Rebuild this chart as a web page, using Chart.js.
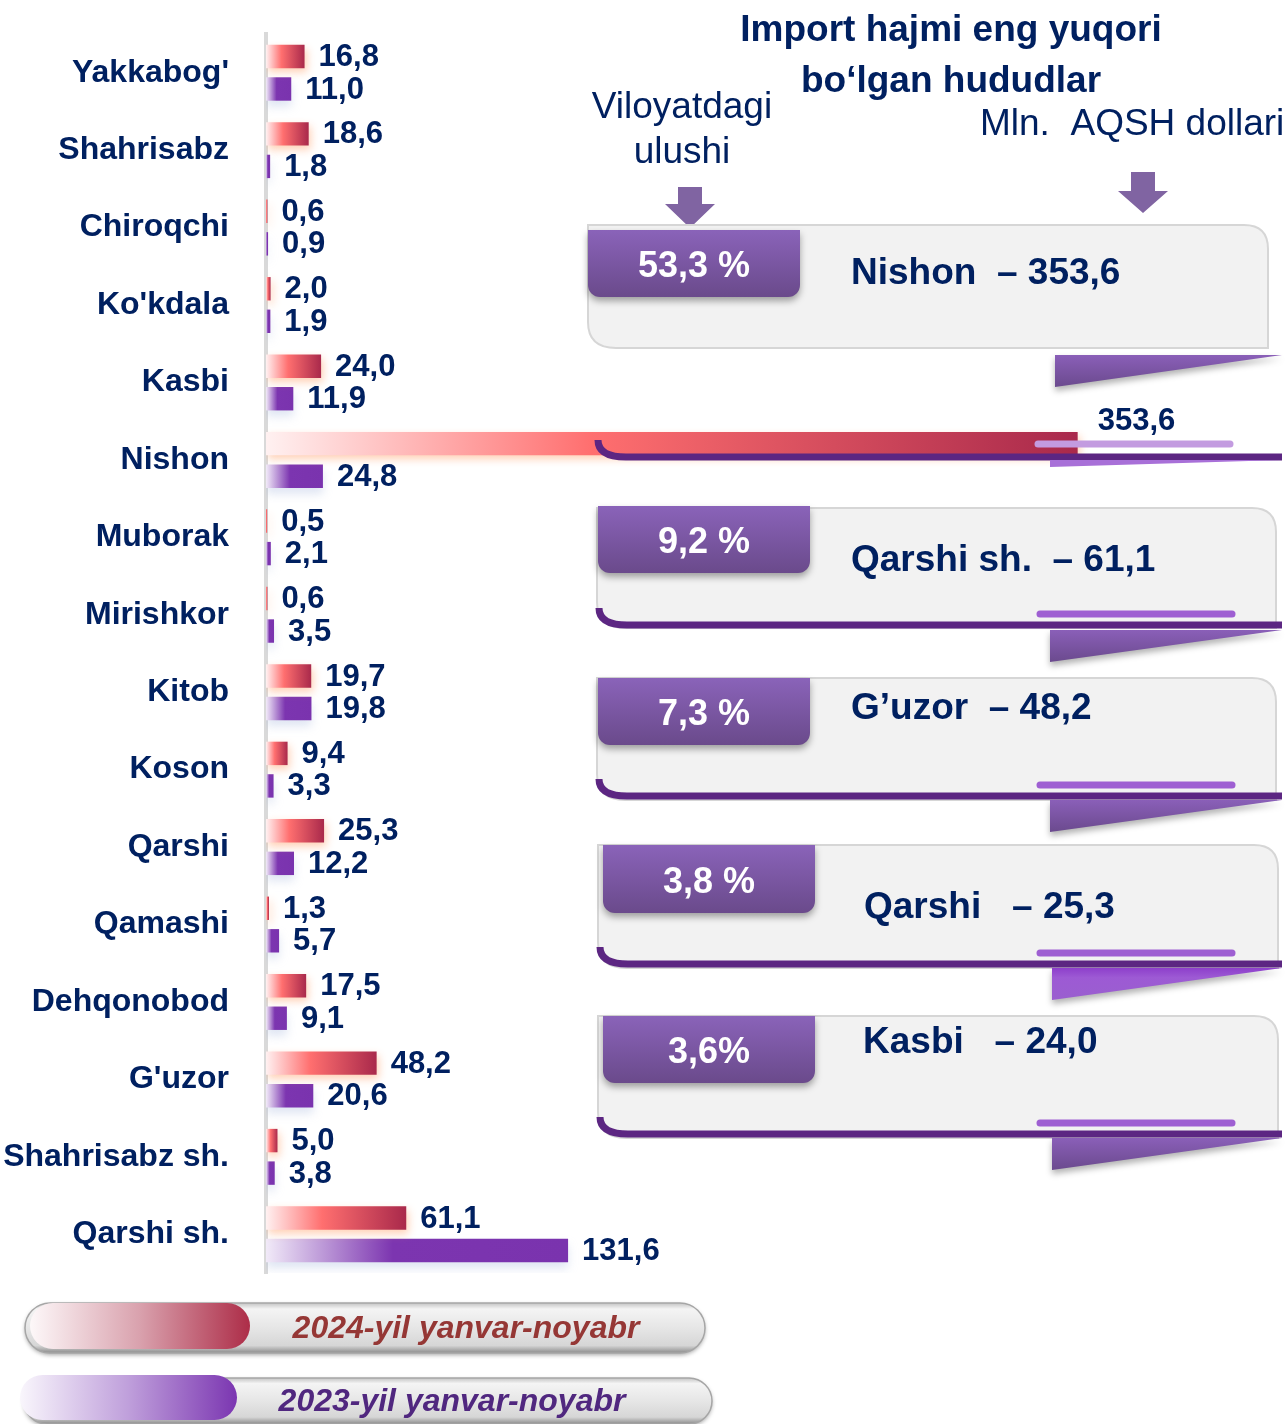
<!DOCTYPE html>
<html>
<head>
<meta charset="utf-8">
<title>Import hajmi</title>
<script src="https://cdn.jsdelivr.net/npm/chart.js@4.4.1/dist/chart.umd.min.js"></script>
<style>
    html, body { margin: 0; padding: 0; background: #ffffff; }
    #importChart { display: block; }
</style>
</head>
<body>
<canvas id="importChart" width="1288" height="1424"></canvas>
<script>
// Hududlar bo'yicha import (mln. AQSH dollari)
const regions = ["Yakkabog'", 'Shahrisabz', 'Chiroqchi', "Ko'kdala", 'Kasbi', 'Nishon', 'Muborak', 'Mirishkor',
    'Kitob', 'Koson', 'Qarshi', 'Qamashi', 'Dehqonobod', "G'uzor", 'Shahrisabz sh.', 'Qarshi sh.'];
const import2024 = [16.8, 18.6, 0.6, 2.0, 24.0, 353.6, 0.5, 0.6, 19.7, 9.4, 25.3, 1.3, 17.5, 48.2, 5.0, 61.1];
const import2023 = [11.0, 1.8, 0.9, 1.9, 11.9, 24.8, 2.1, 3.5, 19.8, 3.3, 12.2, 5.7, 9.1, 20.6, 3.8, 131.6];
const seriesNames = ['2024-yil yanvar-noyabr', '2023-yil yanvar-noyabr'];

// Eng yuqori import hajmi bo'lgan hududlar va viloyatdagi ulushi
const topRegions = ['Nishon', 'Qarshi sh.', 'G’uzor', 'Qarshi', 'Kasbi'];
const topValues = [353.6, 61.1, 48.2, 25.3, 24.0];
const topShares = ['53,3 %', '9,2 %', '7,3 %', '3,8 %', '3,6%'];

const FONT = '"Liberation Sans", Arial, sans-serif';
const NAVY = '#002060';

function fmt(v) {
    return v.toFixed(1).replace('.', ',');
}

// gradient along each bar, from the axis to the bar end
function barFill(stops) {
    return function (context) {
        const chart = context.chart;
        if (!chart.chartArea) return stops[stops.length - 1][1];
        const x = chart.scales.x;
        const x0 = x.getPixelForValue(0);
        const x1 = Math.max(x.getPixelForValue(context.raw), x0 + 1);
        const g = chart.ctx.createLinearGradient(x0, 0, x1, 0);
        stops.forEach(s => g.addColorStop(s[0], s[1]));
        return g;
    };
}
const redStops = [[0, '#fff1f1'], [0.4, '#ff6f6f'], [1, '#a9294b']];
const purpleStops = [[0, '#f1eaf8'], [0.42, '#7c35b0'], [1, '#7a33ae']];
const redKey = [[0, '#fdf8f9'], [0.5, '#d9a1ad'], [1, '#ad2d48']];
const purpleKey = [[0, '#f9f6fc'], [0.5, '#bf9fdb'], [1, '#7b36b1']];

// card layout on the right side
const panels = [
    {box: [588, 225, 680, 123], tab: [588, 230, 212, 67], text: [851, 274], gap: '  – ',
        line: [596, 457], pill: [1038, 1230, 444, '#c39be0'], ribbon: [1055, 355, 32], light: false, extra: true},
    {box: [597, 508, 679, 120], tab: [598, 506, 212, 67], text: [851, 561], gap: '  – ',
        line: [597, 625], pill: [1040, 1232, 614, '#9e5fd2'], ribbon: [1050, 630, 32], light: false},
    {box: [597, 678, 679, 122], tab: [598, 678, 212, 67], text: [851, 709], gap: '  – ',
        line: [597, 796], pill: [1040, 1232, 785, '#9e5fd2'], ribbon: [1050, 800, 32], light: false},
    {box: [598, 845, 680, 123], tab: [603, 845, 212, 68], text: [864, 908], gap: '   – ',
        line: [598, 964], pill: [1040, 1232, 953, '#9e5fd2'], ribbon: [1052, 968, 32], light: true},
    {box: [598, 1016, 680, 122], tab: [603, 1016, 212, 67], text: [863, 1043], gap: '   – ',
        line: [598, 1134], pill: [1040, 1232, 1123, '#9e5fd2'], ribbon: [1052, 1138, 32], light: false}
];

function drawArrow(ctx, cx, top, neck, tip) {
    ctx.save();
    ctx.fillStyle = '#8064a2';
    ctx.beginPath();
    ctx.moveTo(cx - 12, top);
    ctx.lineTo(cx + 12, top);
    ctx.lineTo(cx + 12, neck);
    ctx.lineTo(cx + 25, neck);
    ctx.lineTo(cx, tip);
    ctx.lineTo(cx - 25, neck);
    ctx.lineTo(cx - 12, neck);
    ctx.closePath();
    ctx.fill();
    ctx.restore();
}

function drawPanel(ctx, p, i) {
    const [bx, by, bw, bh] = p.box;

    // grey card
    ctx.save();
    ctx.beginPath();
    ctx.moveTo(bx, by);
    ctx.lineTo(bx + bw - 24, by);
    ctx.quadraticCurveTo(bx + bw, by, bx + bw, by + 24);
    ctx.lineTo(bx + bw, by + bh);
    ctx.lineTo(bx + 28, by + bh);
    ctx.quadraticCurveTo(bx, by + bh, bx, by + bh - 26);
    ctx.closePath();
    ctx.fillStyle = '#f2f2f2';
    ctx.fill();
    ctx.strokeStyle = '#d6d6d6';
    ctx.lineWidth = 2;
    ctx.stroke();
    ctx.restore();

    // folded ribbon under the right end
    const [rx, rt, rd] = p.ribbon;
    ctx.save();
    ctx.shadowColor = 'rgba(0,0,0,0.3)';
    ctx.shadowBlur = 6;
    ctx.shadowOffsetY = 4;
    const rg = ctx.createLinearGradient(0, rt, 0, rt + rd);
    if (p.light) {
        rg.addColorStop(0, '#8d3fcb');
        rg.addColorStop(0.3, '#9d5ad4');
        rg.addColorStop(1, '#9a5fcf');
    } else {
        rg.addColorStop(0, '#8a5fb8');
        rg.addColorStop(1, '#6b4a8e');
    }
    ctx.fillStyle = rg;
    ctx.beginPath();
    ctx.moveTo(rx, rt);
    ctx.lineTo(1282, rt);
    ctx.lineTo(rx, rt + rd);
    ctx.closePath();
    ctx.fill();
    ctx.restore();

    // purple underline with a curled left end
    const [lx, ly] = p.line;
    ctx.save();
    ctx.strokeStyle = '#5c2682';
    ctx.lineWidth = 7;
    ctx.beginPath();
    ctx.moveTo(lx + 2, ly - 17);
    ctx.quadraticCurveTo(lx + 2, ly, lx + 30, ly);
    ctx.lineTo(1282, ly);
    ctx.stroke();
    ctx.restore();

    if (p.extra) {
        ctx.save();
        ctx.fillStyle = '#a870d8';
        ctx.beginPath();
        ctx.moveTo(1050, ly + 3);
        ctx.lineTo(1282, ly + 3);
        ctx.lineTo(1050, ly + 10);
        ctx.closePath();
        ctx.fill();
        ctx.restore();
    }

    // short highlight stroke
    const [px0, px1, py, pc] = p.pill;
    ctx.save();
    ctx.strokeStyle = pc;
    ctx.lineWidth = 7;
    ctx.lineCap = 'round';
    ctx.beginPath();
    ctx.moveTo(px0, py);
    ctx.lineTo(px1, py);
    ctx.stroke();
    ctx.restore();

    // share tab
    const [tx, ty, tw, th] = p.tab;
    ctx.save();
    ctx.shadowColor = 'rgba(0,0,0,0.35)';
    ctx.shadowBlur = 7;
    ctx.shadowOffsetY = 4;
    const tg = ctx.createLinearGradient(0, ty, 0, ty + th);
    tg.addColorStop(0, '#8a63b9');
    tg.addColorStop(1, '#6a4a8b');
    ctx.fillStyle = tg;
    ctx.beginPath();
    ctx.roundRect(tx, ty, tw, th, [0, 0, 12, 12]);
    ctx.fill();
    ctx.restore();

    ctx.save();
    ctx.fillStyle = '#ffffff';
    ctx.font = 'bold 36px ' + FONT;
    ctx.textAlign = 'center';
    ctx.textBaseline = 'middle';
    ctx.fillText(topShares[i], tx + tw / 2, ty + th / 2 + 4);

    ctx.fillStyle = NAVY;
    ctx.font = 'bold 37px ' + FONT;
    ctx.textAlign = 'left';
    ctx.fillText(topRegions[i] + p.gap + fmt(topValues[i]), p.text[0], p.text[1]);
    ctx.restore();
}

function drawLegendPill(ctx, x, y, w, h, key, text, textColor, textX) {
    ctx.save();
    ctx.shadowColor = 'rgba(0,0,0,0.35)';
    ctx.shadowBlur = 4;
    ctx.shadowOffsetY = 2;
    const g = ctx.createLinearGradient(0, y, 0, y + h);
    g.addColorStop(0, '#c4c4c4');
    g.addColorStop(0.12, '#f4f4f4');
    g.addColorStop(0.5, '#e6e6e6');
    g.addColorStop(0.85, '#d6d6d6');
    g.addColorStop(1, '#8c8c8c');
    ctx.fillStyle = g;
    ctx.beginPath();
    ctx.roundRect(x, y, w, h, h / 2);
    ctx.fill();
    ctx.restore();

    ctx.save();
    ctx.strokeStyle = '#a6a6a6';
    ctx.lineWidth = 1.5;
    ctx.beginPath();
    ctx.roundRect(x, y, w, h, h / 2);
    ctx.stroke();

    const [kx, ky, kw, kh] = key.box;
    const cg = ctx.createLinearGradient(kx, 0, kx + kw, 0);
    key.stops.forEach(s => cg.addColorStop(s[0], s[1]));
    ctx.fillStyle = cg;
    ctx.beginPath();
    ctx.roundRect(kx, ky, kw, kh, kh / 2);
    ctx.fill();

    ctx.fillStyle = textColor;
    ctx.font = 'italic bold 32px ' + FONT;
    ctx.textAlign = 'center';
    ctx.textBaseline = 'middle';
    ctx.fillText(text, textX, y + h / 2 + 1);
    ctx.restore();
}

// soft glow under the bars
const barShadow = {
    id: 'barShadow',
    beforeDatasetDraw(chart, args) {
        const ctx = chart.ctx;
        ctx.save();
        if (args.index === 0) {
            ctx.shadowColor = 'rgba(255,150,90,0.45)';
            ctx.shadowBlur = 8;
            ctx.shadowOffsetX = 2;
            ctx.shadowOffsetY = 4;
        } else {
            ctx.shadowColor = 'rgba(150,170,215,0.3)';
            ctx.shadowBlur = 10;
            ctx.shadowOffsetY = 6;
        }
    },
    afterDatasetDraw(chart) {
        chart.ctx.restore();
    }
};

// header, cards, value labels and legend
const decorations = {
    id: 'decorations',
    afterDatasetsDraw(chart) {
        const ctx = chart.ctx;

        ctx.save();
        ctx.fillStyle = NAVY;
        ctx.textAlign = 'center';
        ctx.textBaseline = 'middle';
        ctx.font = 'bold 37px ' + FONT;
        ctx.fillText('Import hajmi eng yuqori', 951, 31);
        ctx.fillText('bo‘lgan hududlar', 951, 82);
        ctx.font = '37px ' + FONT;
        ctx.fillText('Viloyatdagi', 682, 108);
        ctx.fillText('ulushi', 682, 153);
        ctx.textAlign = 'left';
        ctx.fillText('Mln.  AQSH dollari', 980, 125);
        ctx.restore();

        drawArrow(ctx, 690, 187, 204, 228);
        drawArrow(ctx, 1143, 172, 191, 213);

        panels.forEach((p, i) => drawPanel(ctx, p, i));

        // value labels at the bar ends
        ctx.save();
        ctx.fillStyle = NAVY;
        ctx.font = 'bold 31px ' + FONT;
        ctx.textAlign = 'left';
        ctx.textBaseline = 'middle';
        chart.data.datasets.forEach((ds, di) => {
            chart.getDatasetMeta(di).data.forEach((bar, idx) => {
                const v = ds.data[idx];
                let x = bar.x + 14;
                let y = bar.y + 1;
                if (bar.x > 1000) {
                    x = bar.x + 20;
                    y = bar.y - 22;
                }
                ctx.fillText(fmt(v), x, y);
            });
        });
        ctx.restore();

        drawLegendPill(ctx, 25, 1303, 680, 50, {box: [30, 1303, 220, 46], stops: redKey},
            chart.data.datasets[0].label, '#953735', 466);
        drawLegendPill(ctx, 24, 1378, 688, 46, {box: [20, 1375, 217, 45], stops: purpleKey},
            chart.data.datasets[1].label, '#50277f', 452);
    }
};

const ctx = document.getElementById('importChart').getContext('2d');
new Chart(ctx, {
    type: 'bar',
    data: {
        labels: regions,
        datasets: [{
            label: seriesNames[0],
            data: import2024,
            backgroundColor: barFill(redStops),
            borderWidth: 0
        }, {
            label: seriesNames[1],
            data: import2023,
            backgroundColor: barFill(purpleStops),
            borderWidth: 0
        }]
    },
    options: {
        indexAxis: 'y',
        responsive: false,
        animation: false,
        devicePixelRatio: 1,
        layout: {
            padding: {top: 34, bottom: 151, left: 0, right: 12}
        },
        datasets: {
            bar: {categoryPercentage: 0.84, barPercentage: 0.72}
        },
        scales: {
            x: {display: false, min: 0, max: 440},
            y: {
                // fixed axis width, and no extra room reserved for the tick text
                afterFit: axis => {
                    axis.width = 266;
                    axis.paddingTop = 0;
                    axis.paddingBottom = 0;
                },
                grid: {display: false, drawTicks: false},
                border: {display: true, color: '#d9d9d9', width: 4},
                ticks: {
                    padding: 37,
                    color: NAVY,
                    font: {family: FONT, size: 32, weight: 'bold'}
                }
            }
        },
        plugins: {
            legend: {display: false},
            tooltip: {enabled: false}
        }
    },
    plugins: [barShadow, decorations]
});
</script>
</body>
</html>
